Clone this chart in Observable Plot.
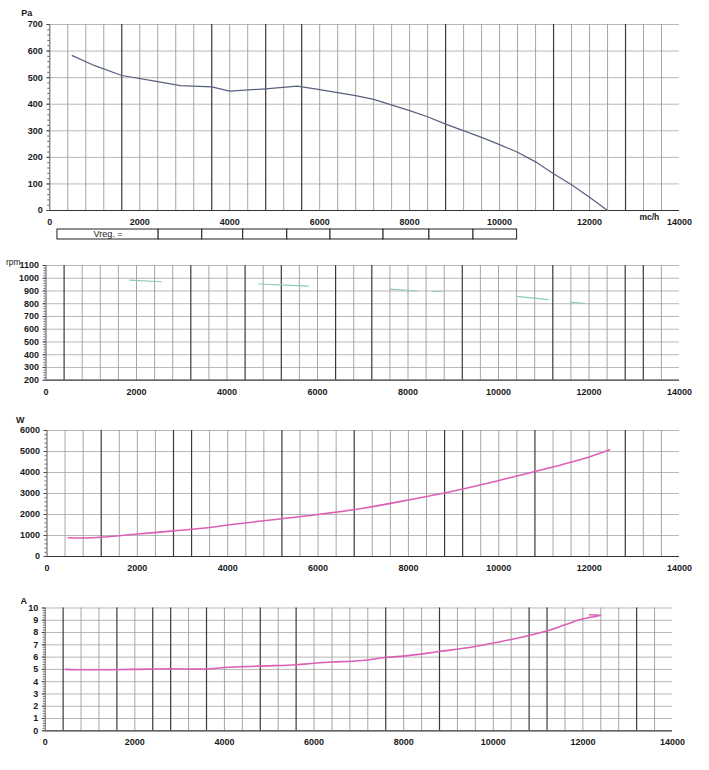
<!DOCTYPE html>
<html><head><meta charset="utf-8">
<script src="https://cdn.jsdelivr.net/npm/d3@7"></script>
<script src="https://cdn.jsdelivr.net/npm/@observablehq/plot@0.6"></script>
<style>
html,body{margin:0;padding:0;background:#fff;}
#page{position:relative;width:709px;height:770px;overflow:hidden;font-family:"Liberation Sans",Arial,sans-serif;}
.panel{position:absolute;left:0;}
.panel svg{display:block;overflow:visible;}
.scanline{position:absolute;left:408px;top:0;width:300px;height:1px;background:#8a8a8a;}
</style></head><body><div id="page"><div class="scanline"></div></div>
<script>
// ---- shared x axis (air flow, mc/h)
const xTicks = [0, 2000, 4000, 6000, 8000, 10000, 12000, 14000];
const xUnit = "mc/h";

// ---- pressure (Pa)
const paTicks = [0, 100, 200, 300, 400, 500, 600, 700];
const paFlow   = [500, 1000, 1600, 2400, 2900, 3600, 4000, 4800, 5500, 6000, 6800, 7200, 8000, 8400, 8800, 9600, 10000, 10400, 10800, 11200, 11600, 12000, 12400];
const paValues = [583, 545, 508, 485, 470, 465, 449, 458, 468, 455, 432, 418, 376, 353, 325, 275, 248, 219, 183, 138, 97, 50, 0];

// ---- speed (rpm) : only faint fragments survive in the scan (NaN = gap)
const rpmTicks = [200, 300, 400, 500, 600, 700, 800, 900, 1000, 1100];
const rpmFlow   = [1850, 2550, NaN, 4700, 5300, 5800, NaN, 7600, 8200, NaN, 8550, 8750, NaN, 10400, 11100, NaN, 11600, 11900];
const rpmValues = [985, 972, NaN, 955, 946, 938, NaN, 915, 900, NaN, 898, 896, NaN, 858, 832, NaN, 812, 803];

// ---- power (W)
const wTicks = [0, 1000, 2000, 3000, 4000, 5000, 6000];
const wFlow   = [470, 800, 1200, 2000, 2800, 3600, 4000, 5000, 6000, 7000, 8000, 9000, 10000, 11000, 12000, 12450];
const wValues = [890, 880, 915, 1070, 1220, 1380, 1500, 1750, 2000, 2300, 2690, 3120, 3620, 4150, 4740, 5080];

// ---- current (A)
const aTicks = [0, 1, 2, 3, 4, 5, 6, 7, 8, 9, 10];
const aFlow   = [450, 700, 1900, 2800, 3600, 4000, 4800, 5600, 6000, 6400, 7000, 7600, 8000, 8800, 9600, 10000, 10400, 10800, 11200, 11600, 12000, 12400, 12150];
const aValues = [5.0, 4.97, 5.0, 5.05, 5.03, 5.15, 5.27, 5.38, 5.5, 5.6, 5.7, 5.97, 6.08, 6.46, 6.86, 7.15, 7.43, 7.76, 8.14, 8.63, 9.12, 9.4, 9.45];

// ---- "Vreg" table under the pressure chart
const vregLabel = "Vreg. =";
const vregEdges = [170, 2420, 3390, 4300, 5280, 6240, 7420, 8440, 9420, 10390];

// scanned grid: every 400 mc/h, some lines printed darker
const gridX = d3.range(400, 14000, 400);

const font = "Liberation Sans, Arial, sans-serif";
const fmt = d => String(d);

function panel(o) {
  const rows = o.flow.map((x, i) => ({x, y: o.values[i]}));
  const yMin = o.yDomain[0];
  const light = gridX.filter(v => !o.dark.includes(v));
  const marks = [
    Plot.ruleY(o.yTicks.filter(v => v !== yMin), {stroke: "#b0b0b0", strokeWidth: 0.9}),
    Plot.ruleX(light, {stroke: "#9c9c9c", strokeWidth: 0.9}),
    Plot.ruleX(o.dark, {stroke: "#3a3a3a", strokeWidth: 1.2}),
    Plot.ruleY([yMin], {stroke: "#333", strokeWidth: 1.2}),
    Plot.ruleX([0], {stroke: "#555", strokeWidth: 1}),
    Plot.axisY({ticks: o.minor, tickSize: 2, tickFormat: () => "", label: null, stroke: "#666"}),
    Plot.axisY({ticks: o.yTicks, tickSize: 3, tickPadding: 4, tickFormat: fmt, fontWeight: "bold", label: null, stroke: "#444"}),
    Plot.axisX({ticks: xTicks, tickSize: 0, tickPadding: 8, tickFormat: fmt, fontWeight: "bold", label: null}),
    Plot.line(rows, {x: "x", y: "y", stroke: o.color, strokeWidth: o.sw, curve: o.curve ?? "linear"}),
    Plot.text([o.unit], {frameAnchor: "top-left", dx: o.udx, dy: o.udy, textAnchor: "start", fontWeight: o.unitWeight ?? "bold", fontSize: o.unitSize ?? 9})
  ];
  if (o.xUnit) marks.push(Plot.text([o.xUnit], {x: 13330, frameAnchor: "bottom", dy: 9, fontWeight: "bold", fontSize: 8.5}));
  return Plot.plot({
    width: 709, height: o.height,
    marginLeft: o.ml, marginRight: o.mr, marginTop: o.mt, marginBottom: o.mb,
    x: {domain: [0, 14000]},
    y: {domain: o.yDomain},
    style: {fontFamily: font, fontSize: "9px", color: "#1a1a1a", background: "white"},
    marks
  });
}

function place(node, top) {
  const d = document.createElement("div");
  d.className = "panel";
  d.style.top = top + "px";
  d.appendChild(node);
  document.getElementById("page").appendChild(d);
}

place(panel({
  flow: paFlow, values: paValues, yDomain: [0, 700], yTicks: paTicks, minor: d3.range(0, 701, 20),
  dark: [1600, 3600, 4800, 5600, 8800, 11200, 12800],
  color: "#586080", sw: 1.2, unit: "Pa", udx: -28.6, udy: -14.7, xUnit,
  height: 228, ml: 49.3, mr: 30, mt: 24, mb: 18
}), 0);

const cells = vregEdges.slice(0, -1).map((x1, i) => ({x1, x2: vregEdges[i + 1]}));
place(Plot.plot({
  width: 709, height: 12, marginLeft: 49.3, marginRight: 30, marginTop: 1, marginBottom: 1,
  x: {domain: [0, 14000], axis: null}, y: {domain: [0, 1], axis: null},
  style: {fontFamily: font, fontSize: "9px", color: "#1a1a1a", background: "transparent"},
  marks: [
    Plot.rect(cells, {x1: "x1", x2: "x2", y1: 0, y2: 1, fill: "white", stroke: "#222", strokeWidth: 1}),
    Plot.text([vregLabel], {x: (vregEdges[0] + vregEdges[1]) / 2, y: 0.5, fontSize: 9})
  ]
}), 228);

place(panel({
  flow: rpmFlow, values: rpmValues, yDomain: [200, 1100], yTicks: rpmTicks, minor: d3.range(200, 1101, 20),
  dark: [400, 3200, 4400, 5200, 6400, 7200, 9200, 11200, 12800, 13200],
  color: "#8fcbb5", sw: 1.1, unit: "rpm", unitWeight: "normal", unitSize: 8.5, udx: -40, udy: -6.5,
  height: 150, ml: 45.5, mr: 30, mt: 15, mb: 20.3
}), 250);

place(panel({
  flow: wFlow, values: wValues, yDomain: [0, 6000], yTicks: wTicks, minor: d3.range(0, 6001, 200),
  dark: [1200, 2800, 3200, 5200, 6800, 8800, 9200, 10800, 12800],
  color: "#dc60b6", sw: 1.6, curve: "catmull-rom", unit: "W", udx: -31, udy: -14,
  height: 161, ml: 46.5, mr: 30, mt: 15, mb: 20
}), 415);

place(panel({
  flow: aFlow, values: aValues, yDomain: [0, 10], yTicks: aTicks, minor: d3.range(0, 10.01, 0.2),
  dark: [400, 1600, 2400, 2800, 3600, 4800, 5600, 7600, 8800, 10800, 11200, 13200],
  color: "#dc60b6", sw: 1.6, curve: "catmull-rom", unit: "A", udx: -24.7, udy: -10.5,
  height: 160.3, ml: 44.7, mr: 37, mt: 17.5, mb: 20
}), 590);
</script>
</body></html>
